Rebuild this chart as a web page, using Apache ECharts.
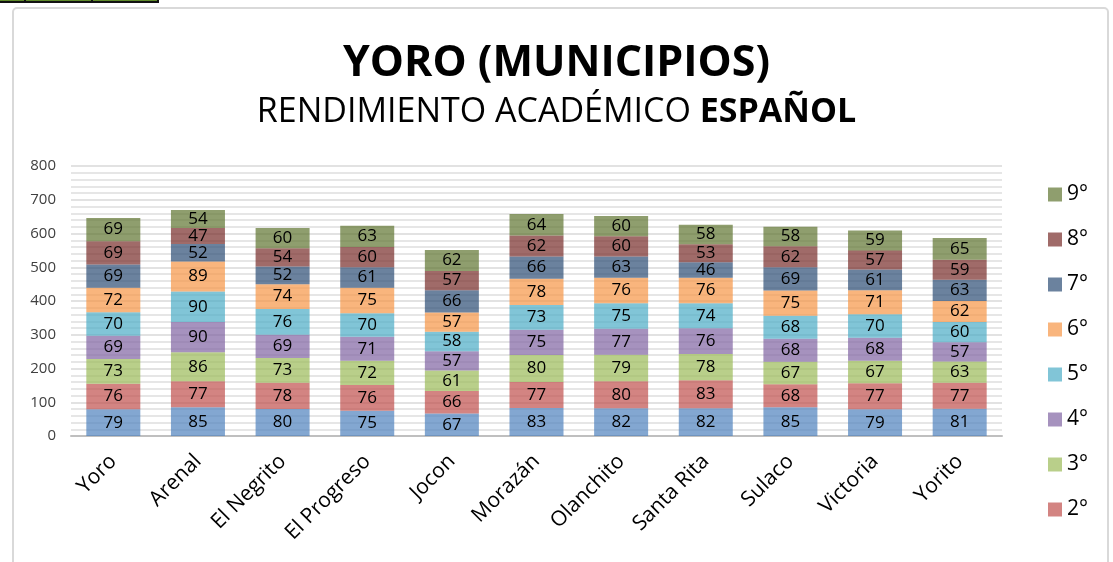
<!DOCTYPE html>
<html>
<head>
<meta charset="utf-8">
<script src="https://cdn.jsdelivr.net/npm/echarts@6/dist/echarts.min.js"></script>
<style>
  html, body { margin: 0; padding: 0; background: #fff; }
  #chart { width: 1113px; height: 562px; }
</style>
</head>
<body>
<div id="chart"></div>
<script>
// Municipios del departamento de Yoro
const municipios = ['Yoro', 'Arenal', 'El Negrito', 'El Progreso', 'Jocon', 'Morazán',
  'Olanchito', 'Santa Rita', 'Sulaco', 'Victoria', 'Yorito'];

// Rendimiento por grado (1° a 9°)
const grado1 = [79, 85, 80, 75, 67, 83, 82, 82, 85, 79, 81];
const grado2 = [76, 77, 78, 76, 66, 77, 80, 83, 68, 77, 77];
const grado3 = [73, 86, 73, 72, 61, 80, 79, 78, 67, 67, 63];
const grado4 = [69, 90, 69, 71, 57, 75, 77, 76, 68, 68, 57];
const grado5 = [70, 90, 76, 70, 58, 73, 75, 74, 68, 70, 60];
const grado6 = [72, 89, 74, 75, 57, 78, 76, 76, 75, 71, 62];
const grado7 = [69, 52, 52, 61, 66, 66, 63, 46, 69, 61, 63];
const grado8 = [69, 47, 54, 60, 57, 62, 60, 53, 62, 57, 59];
const grado9 = [69, 54, 60, 63, 62, 64, 60, 58, 58, 59, 65];

const grados = ['1°', '2°', '3°', '4°', '5°', '6°', '7°', '8°', '9°'];
const valores = [grado1, grado2, grado3, grado4, grado5, grado6, grado7, grado8, grado9];
const ejeY = { min: 0, max: 800, interval: 100 };

const colores = [
  'rgba(79,129,189,0.7)', 'rgba(192,80,77,0.7)', 'rgba(155,187,89,0.7)',
  'rgba(128,100,162,0.7)', 'rgba(75,172,198,0.7)', 'rgba(247,150,70,0.7)',
  'rgba(44,77,117,0.7)', 'rgba(119,44,42,0.7)', 'rgba(95,117,48,0.7)'
];

const FONT = "'Open Sans', 'Liberation Sans', sans-serif";

const series = grados.map((g, i) => ({
  name: g,
  type: 'bar',
  stack: 'total',
  barWidth: 54,
  data: valores[i],
  itemStyle: { color: colores[i] },
  label: {
    show: true,
    position: 'inside',
    color: '#000',
    fontSize: 17,
    fontFamily: FONT
  },
  emphasis: { disabled: true }
}));

const chart = echarts.init(document.getElementById('chart'), null, { renderer: 'canvas' });
chart.setOption({
  animation: false,
  backgroundColor: '#fff',
  title: [
    {
      text: 'YORO (MUNICIPIOS)',
      left: 'center',
      top: 37,
      textStyle: { fontFamily: FONT, fontSize: 43, fontWeight: 'bold', color: '#000' }
    },
    {
      text: '{n|RENDIMIENTO ACADÉMICO }{b|ESPAÑOL}',
      left: 'center',
      top: 90,
      textStyle: {
        rich: {
          n: { fontFamily: FONT, fontSize: 34, fontWeight: 'normal', color: '#000' },
          b: { fontFamily: FONT, fontSize: 34, fontWeight: 'bold', color: '#000' }
        }
      }
    }
  ],
  legend: {
    orient: 'vertical',
    left: 1043,
    top: 179,
    itemWidth: 14,
    itemHeight: 14,
    itemGap: 24,
    icon: 'rect',
    data: ['9°', '8°', '7°', '6°', '5°', '4°', '3°', '2°'],
    textStyle: { fontFamily: FONT, fontSize: 21, color: '#000' }
  },
  grid: { left: 71, right: 111, top: 166, bottom: 126, containLabel: false },
  xAxis: {
    type: 'category',
    data: municipios,
    axisTick: { show: false },
    axisLine: { lineStyle: { color: '#bfbfbf', width: 2 } },
    axisLabel: { rotate: 45, fontSize: 21, color: '#000', fontFamily: FONT, margin: 22, interval: 0 }
  },
  yAxis: {
    type: 'value',
    min: ejeY.min,
    max: ejeY.max,
    interval: ejeY.interval,
    axisLine: { show: false },
    axisTick: { show: false },
    axisLabel: { fontSize: 15, color: '#404040', fontFamily: FONT, margin: 15 },
    splitLine: { lineStyle: { color: '#d9d9d9', width: 1.5 } },
    minorTick: { show: false, splitNumber: 5 },
    minorSplitLine: { show: true, lineStyle: { color: '#dedede', width: 1.5 } }
  },
  graphic: [
    {
      type: 'rect',
      shape: { x: 13, y: 8, width: 1095, height: 620, r: 4 },
      style: { fill: 'none', stroke: '#d9d9d9', lineWidth: 2 },
      silent: true,
      z: -10
    },
    {
      type: 'rect',
      shape: { x: 0, y: 0, width: 159, height: 3 },
      style: { fill: '#111' },
      silent: true
    },
    {
      type: 'rect',
      shape: { x: 0, y: 0, width: 24, height: 1 },
      style: { fill: '#5f8a2a' },
      silent: true
    },
    {
      type: 'rect',
      shape: { x: 26, y: 0, width: 65, height: 1 },
      style: { fill: '#5f8a2a' },
      silent: true
    },
    {
      type: 'rect',
      shape: { x: 93, y: 0, width: 64, height: 1 },
      style: { fill: '#5f8a2a' },
      silent: true
    }
  ],
  series: series
});
</script>
</body>
</html>
